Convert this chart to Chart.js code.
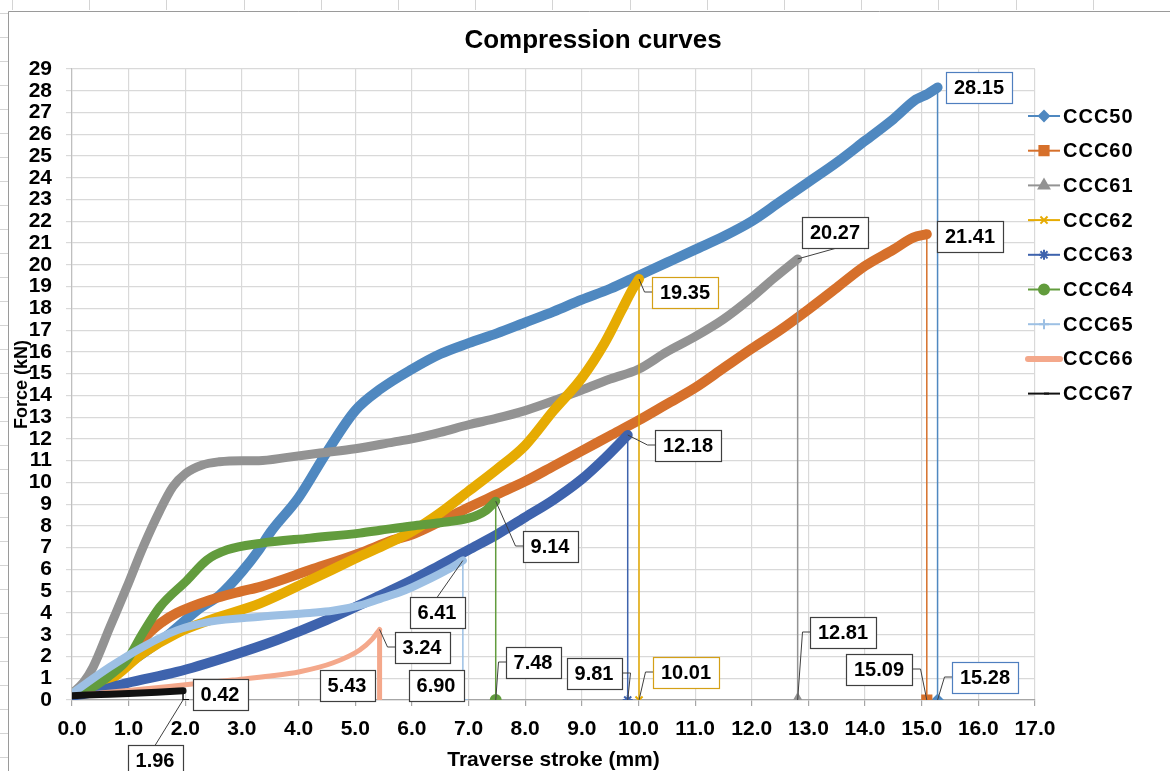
<!DOCTYPE html>
<html>
<head>
<meta charset="utf-8">
<title>Compression curves</title>
<script src="https://cdn.jsdelivr.net/npm/chart.js@4.4.1/dist/chart.umd.min.js"></script>
<style>
  html, body { margin: 0; padding: 0; background: #ffffff; }
  #wrap { width: 1170px; height: 771px; }
</style>
</head>
<body>
<div id="wrap"><canvas id="chart" width="1170" height="771"></canvas></div>
<script>
// series names, as in the legend
const seriesNames = ["CCC50", "CCC60", "CCC61", "CCC62", "CCC63", "CCC64", "CCC65", "CCC66", "CCC67"];

// traverse stroke (mm) / force (kN)
const ccc50Stroke = [0, 0.5, 1.0, 1.5, 1.75, 2.25, 2.6, 3.0, 3.3, 3.5, 4.0, 4.5, 5.0, 5.45, 6.0, 6.5, 7.0, 7.5, 8.0, 8.5, 9.0, 9.5, 10.0, 10.5, 11.0, 11.5, 12.0, 12.5, 13.0, 13.5, 14.0, 14.5, 14.9, 15.1, 15.28];
const ccc50Force = [0.3, 0.9, 1.7, 2.6, 3.1, 4.2, 4.8, 5.9, 6.9, 7.7, 9.3, 11.4, 13.3, 14.3, 15.2, 15.9, 16.4, 16.85, 17.35, 17.85, 18.4, 18.9, 19.5, 20.1, 20.7, 21.3, 22.0, 22.9, 23.8, 24.7, 25.7, 26.7, 27.6, 27.85, 28.15];

const ccc60Stroke = [0, 0.5, 1.0, 1.3, 1.6, 1.85, 2.44, 3.0, 3.32, 4.2, 5.08, 5.67, 6.0, 6.5, 7.0, 7.5, 8.0, 8.5, 9.0, 9.5, 10.0, 10.5, 11.0, 11.5, 12.0, 12.5, 13.0, 13.5, 14.0, 14.5, 14.85, 15.09];
const ccc60Force = [0.3, 0.8, 1.7, 2.9, 3.6, 4.0, 4.6, 5.0, 5.2, 5.97, 6.75, 7.35, 7.6, 8.2, 8.85, 9.45, 10.05, 10.75, 11.45, 12.15, 12.85, 13.6, 14.35, 15.25, 16.15, 17.0, 17.95, 18.95, 19.95, 20.7, 21.25, 21.41];

const ccc61Stroke = [0, 0.2, 0.37, 0.67, 0.97, 1.25, 1.55, 1.78, 2.0, 2.3, 2.6, 3.0, 3.3, 3.8, 4.38, 5.0, 5.67, 6.0, 6.5, 7.0, 7.5, 8.0, 8.5, 9.0, 9.5, 10.0, 10.5, 11.0, 11.5, 12.0, 12.4, 12.81];
const ccc61Force = [0.3, 0.8, 1.5, 3.35, 5.2, 7.0, 8.7, 9.8, 10.4, 10.8, 10.95, 11.0, 11.0, 11.15, 11.35, 11.55, 11.85, 12.0, 12.3, 12.65, 12.95, 13.3, 13.75, 14.25, 14.75, 15.2, 16.0, 16.7, 17.5, 18.5, 19.4, 20.27];

const ccc62Stroke = [0, 0.67, 1.25, 1.85, 2.44, 3.32, 4.2, 5.0, 5.5, 6.0, 6.5, 7.0, 7.5, 8.0, 8.5, 9.0, 9.4, 9.7, 9.9, 10.01];
const ccc62Force = [0.3, 0.92, 2.15, 3.07, 3.68, 4.44, 5.5, 6.5, 7.1, 7.75, 8.6, 9.6, 10.6, 11.7, 13.3, 14.8, 16.4, 17.9, 18.9, 19.35];

const ccc63Stroke = [0, 0.37, 0.97, 1.85, 2.74, 3.62, 4.5, 5.38, 6.0, 6.5, 7.0, 7.5, 8.0, 8.5, 9.0, 9.4, 9.81];
const ccc63Force = [0.2, 0.35, 0.78, 1.29, 1.98, 2.76, 3.68, 4.73, 5.5, 6.2, 6.9, 7.6, 8.4, 9.2, 10.15, 11.1, 12.18];

const ccc64Stroke = [0, 0.37, 0.7, 0.97, 1.25, 1.55, 2.03, 2.38, 2.74, 3.32, 4.2, 5.08, 5.44, 6.0, 6.5, 7.0, 7.3, 7.48];
const ccc64Force = [0.3, 0.6, 1.2, 1.84, 3.07, 4.27, 5.5, 6.43, 6.9, 7.2, 7.44, 7.67, 7.8, 8.0, 8.15, 8.35, 8.7, 9.14];

const ccc65Stroke = [0, 0.67, 1.25, 1.85, 2.44, 3.32, 4.2, 4.6, 5.08, 5.44, 5.79, 6.02, 6.62, 6.9];
const ccc65Force = [0.3, 1.52, 2.44, 3.2, 3.6, 3.83, 4.0, 4.1, 4.35, 4.65, 4.95, 5.2, 5.97, 6.41];

const ccc66Stroke = [0, 1.08, 2.0, 2.84, 3.5, 4.02, 4.6, 5.08, 5.3, 5.43];
const ccc66Force = [0.2, 0.46, 0.7, 0.92, 1.1, 1.3, 1.7, 2.3, 2.8, 3.24];

const ccc67Stroke = [0, 0.5, 1.0, 1.5, 1.96];
const ccc67Force = [0.2, 0.25, 0.3, 0.36, 0.42];

const strokes = [ccc50Stroke, ccc60Stroke, ccc61Stroke, ccc62Stroke, ccc63Stroke, ccc64Stroke, ccc65Stroke, ccc66Stroke, ccc67Stroke];
const forces = [ccc50Force, ccc60Force, ccc61Force, ccc62Force, ccc63Force, ccc64Force, ccc65Force, ccc66Force, ccc67Force];

// styling
const FONT = '"Liberation Sans", Arial, Helvetica, sans-serif';
const seriesColors = ["#4f88c0", "#d6702b", "#939393", "#e6ab02", "#3e63ad", "#629c3d", "#9dc0e4", "#f4a88b", "#111111"];
const curveWidths = [10, 10, 9, 10, 10, 9, 8, 5, 7];
const dropWidths = [1.5, 1.5, 1.5, 1.5, 1.5, 1.5, 1.5, 5, 1.5];
const markerStyles = ["rectRot", "rect", "triangle", "crossRot", "star", "circle", "cross", false, "dash"];
const markerRadii = [5, 6.5, 6, 5, 5, 5, 5, 0, 6];
const labelBorders = ["#4f7fbf", "#3f3f3f", "#3f3f3f", "#d4a017", "#3f3f3f", "#3f3f3f", "#3f3f3f", "#3f3f3f", "#3f3f3f"];
// label box offsets from the point (px) and leader side: [dx, dy, leader]
const peakPlacement = [[41, 0, "none"], [43, 2, "none"], [37, -27, "bottom"], [46, 13, "left"], [60, 10, "left"], [54, 45, "left"], [-26, 51, "top"], [42, 17, "left"], [37, 3, "none"]];
const basePlacement = [[47, -23, "left"], [-48, -31, "right"], [45, -68, "left"], [47, -28, "left"], [-34, -27, "right"], [37, -38, "left"], [-27, -15, "none"], [-33, -15, "none"], [-28, 60, "top"]];

const curveDatasets = seriesNames.map((name, i) => ({
  label: name,
  data: strokes[i].map((x, k) => ({ x, y: forces[i][k] })),
  borderColor: seriesColors[i],
  backgroundColor: seriesColors[i],
  borderWidth: curveWidths[i],
  borderJoinStyle: "round",
  borderCapStyle: "round",
  pointRadius: 0,
  cubicInterpolationMode: "monotone",
  order: -i
}));

const dropDatasets = seriesNames.map((name, i) => {
  const xe = strokes[i][strokes[i].length - 1];
  const ye = forces[i][forces[i].length - 1];
  return {
    label: name + " drop",
    data: [{ x: xe, y: ye }, { x: xe, y: 0 }],
    borderColor: seriesColors[i],
    backgroundColor: seriesColors[i],
    borderWidth: dropWidths[i],
    pointStyle: markerStyles[i] || "circle",
    pointRadius: [0, markerRadii[i]],
    pointBorderWidth: 2,
    pointBackgroundColor: seriesColors[i],
    pointBorderColor: seriesColors[i],
    order: -20 - i
  };
});

function drawMarker(ctx, style, radius, x, y) {
  if (!style || !radius) {
    return;
  }
  if (Chart.helpers && Chart.helpers.drawPoint) {
    Chart.helpers.drawPoint(ctx, { pointStyle: style, radius, rotation: 0, borderWidth: 2 }, x, y);
  }
}

const sheetPlugin = {
  id: "sheet",
  beforeDraw(chart) {
    const { ctx, width, height } = chart;
    ctx.save();
    ctx.fillStyle = "#ffffff";
    ctx.fillRect(0, 0, width, height);
    // spreadsheet cell marks around the chart object
    ctx.strokeStyle = "#d4d4d4";
    ctx.lineWidth = 1;
    ctx.beginPath();
    for (let x = 12; x < width; x += 77.2) {
      ctx.moveTo(Math.round(x) + 0.5, 0);
      ctx.lineTo(Math.round(x) + 0.5, 10);
    }
    for (let y = 13; y < height; y += 24) {
      ctx.moveTo(0, Math.round(y) + 0.5);
      ctx.lineTo(8, Math.round(y) + 0.5);
    }
    ctx.stroke();
    ctx.strokeStyle = "#9a9a9a";
    ctx.beginPath();
    ctx.moveTo(8.5, height);
    ctx.lineTo(8.5, 11.5);
    ctx.lineTo(width, 11.5);
    ctx.stroke();
    ctx.restore();
  }
};

const dataLabelPlugin = {
  id: "dataLabels",
  afterDatasetsDraw(chart) {
    const { ctx, scales } = chart;
    ctx.save();
    ctx.font = `bold 20px ${FONT}`;
    ctx.textAlign = "center";
    ctx.textBaseline = "middle";
    seriesNames.forEach((name, i) => {
      const xe = strokes[i][strokes[i].length - 1];
      const ye = forces[i][forces[i].length - 1];
      const items = [
        { x: xe, y: ye, text: ye.toFixed(2), place: peakPlacement[i] },
        { x: xe, y: 0, text: xe.toFixed(2), place: basePlacement[i] }
      ];
      items.forEach((item) => {
        const px = scales.x.getPixelForValue(item.x);
        const py = scales.y.getPixelForValue(item.y);
        const [dx, dy, leader] = item.place;
        const cx = Math.round(px + dx);
        const cy = Math.round(py + dy);
        const w = Math.round(ctx.measureText(item.text).width + 16);
        const h = 31;
        const left = Math.round(cx - w / 2) + 0.5;
        const top = Math.round(cy - h / 2) + 0.5;

        ctx.strokeStyle = "#404040";
        ctx.lineWidth = 1;
        ctx.beginPath();
        if (leader === "left") {
          ctx.moveTo(left, cy);
          ctx.lineTo(left - 8, cy);
          ctx.lineTo(px, py);
        } else if (leader === "right") {
          ctx.moveTo(left + w, cy);
          ctx.lineTo(left + w + 8, cy);
          ctx.lineTo(px, py);
        } else if (leader === "top") {
          ctx.moveTo(cx, top);
          ctx.lineTo(px, py);
        } else if (leader === "bottom") {
          ctx.moveTo(cx, top + h);
          ctx.lineTo(px, py);
        }
        ctx.stroke();

        ctx.fillStyle = "#ffffff";
        ctx.fillRect(left, top, w, h);
        ctx.strokeStyle = labelBorders[i];
        ctx.lineWidth = 1.2;
        ctx.strokeRect(left, top, w, h);
        ctx.fillStyle = "#000000";
        ctx.fillText(item.text, cx, cy + 1);
      });
    });
    ctx.restore();
  }
};

const legendTitlePlugin = {
  id: "legendTitle",
  afterDraw(chart) {
    const { ctx } = chart;
    ctx.save();
    ctx.fillStyle = "#000000";
    ctx.font = `bold 26px ${FONT}`;
    ctx.textAlign = "center";
    ctx.textBaseline = "middle";
    ctx.fillText("Compression curves", 593, 41);

    ctx.font = `bold 20px ${FONT}`;
    ctx.textAlign = "left";
    if ("letterSpacing" in ctx) {
      ctx.letterSpacing = "1px";
    }
    seriesNames.forEach((name, i) => {
      const cy = 116 + i * 34.7;
      ctx.strokeStyle = seriesColors[i];
      ctx.fillStyle = seriesColors[i];
      ctx.lineWidth = i === 7 ? 6 : 2;
      ctx.lineCap = i === 7 ? "round" : "butt";
      ctx.beginPath();
      ctx.moveTo(1028, cy);
      ctx.lineTo(1060, cy);
      ctx.stroke();
      ctx.lineWidth = 2;
      drawMarker(ctx, markerStyles[i], i === 8 ? 5 : markerRadii[i], 1044, cy);
      ctx.fillStyle = "#000000";
      ctx.fillText(name, 1063, cy + 1);
    });
    ctx.restore();
  }
};

new Chart(document.getElementById("chart"), {
  type: "line",
  data: { datasets: [...curveDatasets, ...dropDatasets] },
  options: {
    responsive: false,
    devicePixelRatio: 1,
    animation: false,
    layout: { padding: { left: 0, top: 69, right: 135, bottom: 0 } },
    plugins: {
      legend: { display: false },
      title: { display: false },
      tooltip: { enabled: false }
    },
    scales: {
      x: {
        type: "linear",
        min: 0,
        max: 17,
        afterFit(scale) { scale.height = 71; },
        border: { color: "#a6a6a6", width: 1.2 },
        grid: { color: "#d9d9d9", lineWidth: 1.2, tickLength: 6, tickColor: "#a6a6a6" },
        ticks: {
          stepSize: 1,
          autoSkip: false,
          padding: 11,
          maxRotation: 0,
          color: "#000000",
          font: { family: FONT, size: 21, weight: "bold" },
          callback(value) { return Number(value).toFixed(1); }
        },
        title: {
          display: true,
          text: "Traverse stroke (mm)",
          color: "#000000",
          padding: 0,
          font: { family: FONT, size: 21, weight: "bold", lineHeight: 1 }
        }
      },
      y: {
        min: 0,
        max: 29,
        afterFit(scale) { scale.width = 72; },
        border: { color: "#bfbfbf", width: 1.2 },
        grid: { color: "#d9d9d9", lineWidth: 1.2, tickLength: 6 },
        ticks: {
          stepSize: 1,
          autoSkip: false,
          padding: 14,
          color: "#000000",
          font: { family: FONT, size: 21, weight: "bold" }
        },
        title: {
          display: true,
          text: "Force (kN)",
          color: "#000000",
          padding: { top: 11, bottom: 0 },
          font: { family: FONT, size: 18, weight: "bold", lineHeight: 1.2 }
        }
      }
    }
  },
  plugins: [sheetPlugin, dataLabelPlugin, legendTitlePlugin]
});
</script>
</body>
</html>
